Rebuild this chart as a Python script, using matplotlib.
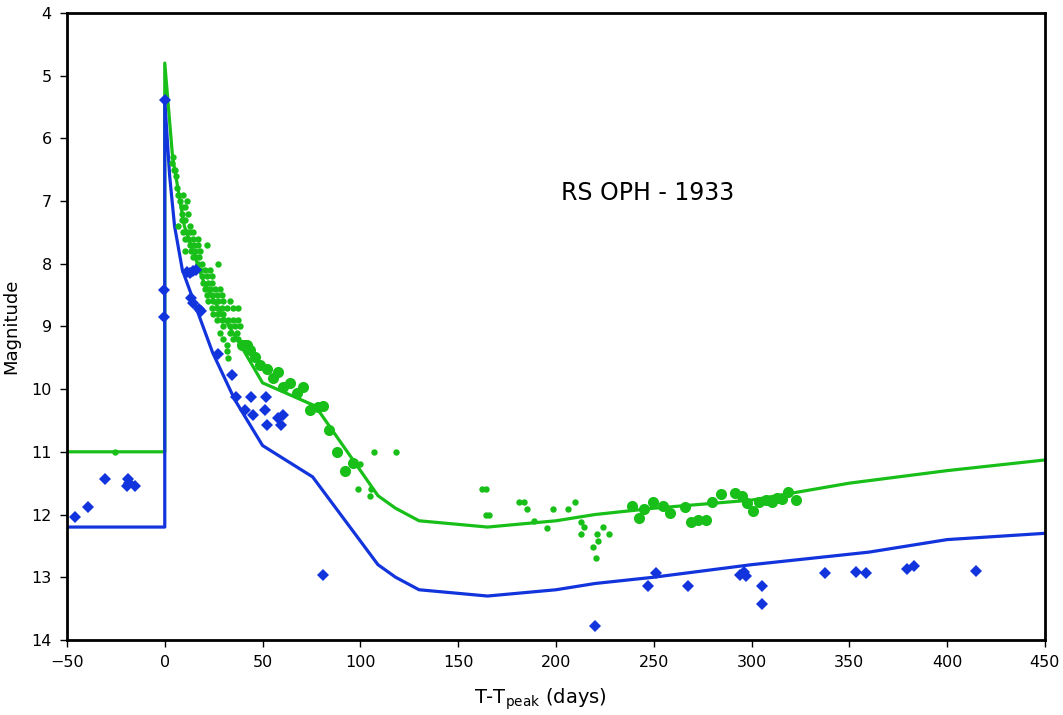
import matplotlib
matplotlib.use("Agg")
import matplotlib.pyplot as plt

# ---------------- data ----------------
# model light curves
green_line_x = [-50, 0, 0, 4, 10, 20, 30, 38, 50, 77, 109, 118, 130, 165, 200, 220, 250, 300, 350, 400, 450]
green_line_y = [11.0, 11.0, 4.8, 6.3, 7.4, 8.3, 8.85, 9.26, 9.9, 10.27, 11.7, 11.9, 12.1, 12.2, 12.1, 12.0, 11.9, 11.77, 11.5, 11.3, 11.13]

blue_line_x = [-50, 0, 0, 2.5, 5, 9, 16, 24.5, 35.8, 50, 75.6, 109, 118, 130, 165, 200, 220, 250, 300, 360, 400, 450]
blue_line_y = [12.2, 12.2, 5.4, 6.6, 7.4, 8.1, 8.7, 9.42, 10.17, 10.9, 11.4, 12.8, 13.0, 13.2, 13.3, 13.2, 13.1, 13.0, 12.8, 12.6, 12.4, 12.3]

# small green observations
green_small_x = [-25.6,
                 4.1, 3.6, 4.6, 5.1, 5.6, 6.1, 6.6, 9.2, 7.7, 11.2, 8.7, 10.2, 8.7, 11.8, 8.7, 10.2,
                 6.6, 12.8, 9.2, 11.2, 12.8, 14.3, 10.2, 11.8, 14.3, 16.9, 12.8, 14.8, 16.9, 21.5,
                 10.2, 13.3, 15.3, 17.9, 14.3, 15.8, 17.4, 16.9, 18.9, 27.1, 17.9, 20.4, 23.0,
                 18.9, 21.5, 24.0, 19.4, 22.0, 24.0, 20.4, 23.0, 25.6, 28.1, 21.5, 24.0, 26.6, 29.1,
                 22.0, 24.5, 27.1, 29.7, 33.2, 24.0, 26.6, 29.1, 31.7, 34.8, 37.3, 24.5, 27.1, 29.7,
                 26.6, 29.1, 32.2, 34.8, 37.3, 29.7, 33.2, 35.8, 38.3, 28.1, 33.2, 36.8,
                 29.7, 34.8, 37.3, 31.7, 31.7, 32.2,
                 99.7, 106.9, 118.1, 98.7, 105.3, 104.8,
                 162, 164, 164, 166, 181, 183.5, 185, 188.6, 195.3, 198.4, 206, 209.6,
                 213, 214.2, 213, 219, 220.3, 221.4, 220.9, 224, 227]
green_small_y = [11.0,
                 6.3, 6.4, 6.5, 6.5, 6.6, 6.8, 6.9, 6.9, 7.0, 7.0, 7.1, 7.1, 7.2, 7.2, 7.3, 7.3,
                 7.4, 7.4, 7.5, 7.5, 7.5, 7.5, 7.6, 7.6, 7.6, 7.6, 7.7, 7.7, 7.7, 7.7,
                 7.8, 7.8, 7.8, 7.8, 7.9, 7.9, 7.9, 8.0, 8.0, 8.0, 8.1, 8.1, 8.1,
                 8.2, 8.2, 8.2, 8.3, 8.3, 8.3, 8.4, 8.4, 8.4, 8.4, 8.5, 8.5, 8.5, 8.5,
                 8.6, 8.6, 8.6, 8.6, 8.6, 8.7, 8.7, 8.7, 8.7, 8.7, 8.7, 8.8, 8.8, 8.8,
                 8.9, 8.9, 8.9, 8.9, 8.9, 9.0, 9.0, 9.0, 9.0, 9.1, 9.1, 9.1,
                 9.2, 9.2, 9.2, 9.3, 9.4, 9.5,
                 11.2, 11.0, 11.0, 11.6, 11.6, 11.7,
                 11.6, 11.6, 12.0, 12.0, 11.8, 11.8, 11.91, 12.1, 12.21, 11.91, 11.91, 11.8,
                 12.12, 12.2, 12.31, 12.52, 12.7, 12.42, 12.31, 12.2, 12.31]

# large green observations
green_large_x = [39.4, 41.9, 40.9, 43.5, 46.0, 48.6, 52.1, 57.8, 55.2, 60.3, 63.9, 70.6, 67.5,
                 74.1, 78.2, 80.8, 83.8, 87.9, 92.0, 96.1,
                 238.7, 242.3, 244.9, 249.5, 254.6, 258.2, 265.8, 268.9, 272.5, 276.6, 279.7,
                 284.2, 291.4, 295.0, 297.5, 300.6, 303.7, 307.3, 310.3, 312.9, 315.4, 318.5, 322.6]
green_large_y = [9.3, 9.3, 9.3, 9.37, 9.49, 9.61, 9.68, 9.73, 9.82, 9.96, 9.91, 9.96, 10.06,
                 10.33, 10.29, 10.27, 10.65, 11.0, 11.3, 11.18,
                 11.86, 12.05, 11.91, 11.8, 11.86, 11.97, 11.88, 12.12, 12.09, 12.09, 11.8,
                 11.67, 11.66, 11.7, 11.82, 11.94, 11.8, 11.77, 11.8, 11.74, 11.75, 11.64, 11.77]

# blue observations
blue_obs_x = [-46, -39.5, -30.7, -19, -19.5, -15.3, -18.5,
              0, -0.5, -0.3,
              11.2, 12.8, 14.3, 16.0, 13.3, 14.3, 17.4, 18.4, 27.1, 34.3, 36.3, 44.0, 51.6,
              40.9, 45.0, 51.1, 52.1, 57.8, 60.3, 59.3, 80.8,
              219.8, 247, 251, 267.4, 294, 296, 297, 305.2, 305.2,
              337.4, 353.3, 358.4, 379.3, 383, 415]
blue_obs_y = [12.04, 11.88, 11.43, 11.43, 11.54, 11.54, 11.5,
              5.39, 8.42, 8.85,
              8.13, 8.15, 8.12, 8.1, 8.55, 8.63, 8.72, 8.75, 9.44, 9.77, 10.12, 10.12, 10.12,
              10.33, 10.41, 10.33, 10.57, 10.46, 10.41, 10.57, 12.96,
              13.78, 13.14, 12.93, 13.14, 12.96, 12.92, 12.98, 13.14, 13.43,
              12.93, 12.92, 12.93, 12.87, 12.82, 12.9]

x_ticks = [-50, 0, 50, 100, 150, 200, 250, 300, 350, 400, 450]
y_ticks = [4, 5, 6, 7, 8, 9, 10, 11, 12, 13, 14]
title_text = "RS OPH - 1933"

GREEN = "#18bf18"
BLUE = "#1234dc"

plt.rcParams["font.family"] = ["DejaVu Sans"]

fig = plt.figure(figsize=(10.63, 7.15), dpi=100)
ax = fig.add_axes([0.063, 0.105, 0.920, 0.877])

ax.plot(green_line_x, green_line_y, color=GREEN, lw=2.3, zorder=2)
ax.plot(blue_line_x, blue_line_y, color=BLUE, lw=2.3, zorder=2)

ax.plot(green_small_x, green_small_y, "o", color=GREEN, ms=4.6, mew=0, zorder=3)
ax.plot(green_large_x, green_large_y, "o", color=GREEN, ms=8, mew=0, zorder=3)
ax.plot(blue_obs_x, blue_obs_y, "D", color=BLUE, ms=6, mew=0, zorder=4)

ax.set_xlim(-50, 450)
ax.set_ylim(14, 4)
ax.set_xticks(x_ticks)
ax.set_yticks(y_ticks)
ax.tick_params(direction="out", length=5, width=1, labelsize=11.5, pad=6)

for s in ax.spines.values():
    s.set_linewidth(2)
    s.set_color("black")

ax.set_xlabel(r"T-T$_{\mathrm{peak}}$ (days)", fontsize=14)
ax.xaxis.set_label_coords(0.484, -0.075)
ax.set_ylabel("Magnitude", fontsize=13)
ax.yaxis.set_label_coords(-0.048, 0.5)

ax.text(247, 6.87, title_text, fontsize=17, ha="center", va="center")

fig.savefig("out.png", dpi=100)
